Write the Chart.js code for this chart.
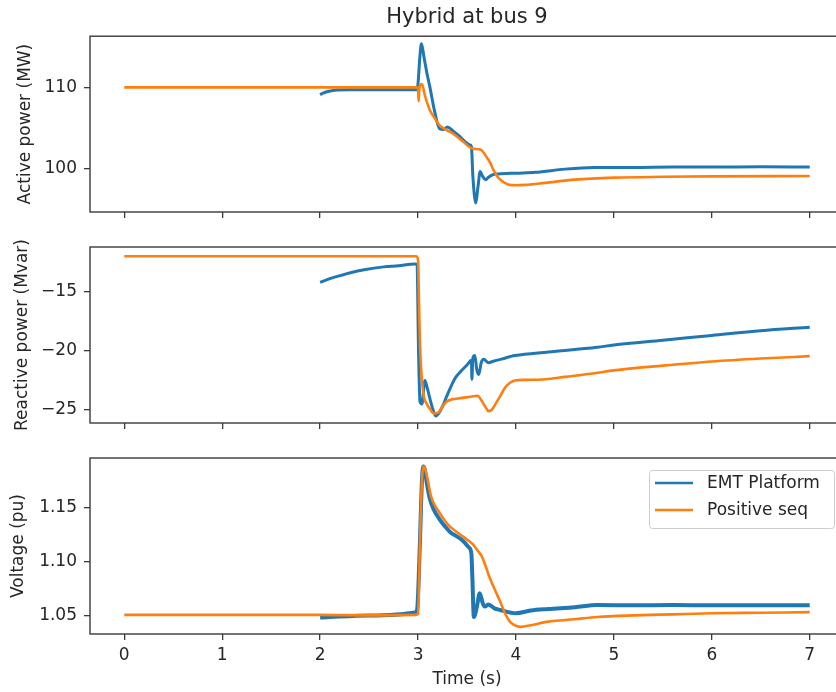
<!DOCTYPE html>
<html>
<head>
<meta charset="utf-8">
<script src="https://cdn.jsdelivr.net/npm/chart.js@4.4.1/dist/chart.umd.min.js"></script>
<style>
  html, body { margin: 0; padding: 0; background: #fff; }
  #wrap { position: relative; width: 836px; height: 692px; overflow: hidden; background: #fff; }
  canvas { position: absolute; left: 0; }
</style>
</head>
<body>
<div id="wrap">
  <canvas id="c1" width="850" height="222" style="top:0px"></canvas>
  <canvas id="c2" width="850" height="207" style="top:230px"></canvas>
  <canvas id="c3" width="850" height="252" style="top:440px"></canvas>
</div>
<script>
// ---------------- DATA ----------------
const titleText = "Hybrid at bus 9";
const seriesNames = ["EMT Platform", "Positive seq"];
const xTicks = [0, 1, 2, 3, 4, 5, 6, 7];
const pTicks = [100, 110];
const qTicks = [-25, -20, -15];
const vTicks = [1.05, 1.10, 1.15];

// Active power (MW)
const emtPTime = [2.0, 2.03, 2.08, 2.15, 2.3, 2.6, 2.99, 3.0, 3.02, 3.035, 3.06, 3.09, 3.12, 3.17, 3.22, 3.26, 3.30, 3.36, 3.42, 3.48, 3.53, 3.545, 3.56, 3.59, 3.61, 3.635, 3.66, 3.69, 3.72, 3.76, 3.82, 4.0, 4.2, 4.5, 4.8, 5.2, 5.6, 6.0, 6.5, 7.0];
const emtP     = [109.1, 109.3, 109.5, 109.65, 109.7, 109.7, 109.7, 110.5, 114.0, 115.4, 113.8, 111.8, 110.1, 107.0, 104.9, 104.8, 105.1, 104.6, 104.0, 103.3, 102.9, 102.7, 99.0, 95.7, 97.5, 99.6, 99.0, 98.6, 98.9, 99.2, 99.3, 99.4, 99.5, 99.9, 100.1, 100.1, 100.15, 100.15, 100.2, 100.15];
const posPTime = [0, 2.98, 3.0, 3.006, 3.015, 3.04, 3.07, 3.12, 3.17, 3.22, 3.28, 3.33, 3.39, 3.46, 3.53, 3.57, 3.64, 3.70, 3.74, 3.77, 3.81, 3.85, 3.92, 4.0, 4.1, 4.3, 4.6, 5.0, 5.5, 6.0, 7.0];
const posP     = [110, 110, 109.9, 108.3, 110.0, 110.4, 109.0, 107.2, 106.2, 105.3, 104.8, 104.5, 104.0, 103.3, 102.6, 102.4, 102.3, 101.4, 100.6, 99.8, 99.0, 98.5, 98.0, 97.9, 97.95, 98.2, 98.6, 98.85, 98.95, 99.0, 99.05];

// Reactive power (Mvar)
const emtQTime = [2.0, 2.1, 2.2, 2.31, 2.45, 2.65, 2.8, 2.97, 2.99, 3.005, 3.02, 3.04, 3.07, 3.09, 3.12, 3.15, 3.18, 3.21, 3.25, 3.30, 3.38, 3.44, 3.50, 3.545, 3.55, 3.56, 3.58, 3.60, 3.62, 3.645, 3.67, 3.72, 3.76, 3.85, 3.99, 4.33, 4.83, 5.0, 5.5, 6.0, 6.5, 7.0];
const emtQ     = [-14.2, -13.9, -13.65, -13.4, -13.15, -12.9, -12.8, -12.65, -12.7, -20.0, -24.3, -24.5, -22.5, -23.0, -24.0, -24.9, -25.5, -25.3, -24.7, -23.7, -22.3, -21.7, -21.2, -20.8, -22.4, -20.6, -20.4, -21.6, -22.0, -21.0, -20.7, -21.0, -20.9, -20.7, -20.4, -20.1, -19.7, -19.5, -19.1, -18.7, -18.3, -18.0];
const posQTime = [0, 2.98, 3.0, 3.01, 3.02, 3.04, 3.06, 3.09, 3.12, 3.16, 3.21, 3.25, 3.29, 3.35, 3.43, 3.52, 3.61, 3.64, 3.67, 3.70, 3.72, 3.75, 3.79, 3.84, 3.89, 3.94, 3.99, 4.1, 4.3, 4.5, 4.8, 5.0, 5.5, 6.0, 6.5, 7.0];
const posQ     = [-12.0, -12.0, -12.3, -16.0, -19.5, -22.5, -23.9, -24.5, -24.9, -25.3, -25.2, -24.7, -24.3, -24.1, -24.0, -23.9, -23.8, -24.1, -24.5, -24.9, -25.1, -25.0, -24.5, -23.8, -23.1, -22.7, -22.5, -22.45, -22.4, -22.2, -21.9, -21.65, -21.25, -20.9, -20.65, -20.45];

// Voltage (pu)
const emtVTime = [2.0, 2.1, 2.5, 2.98, 2.995, 3.02, 3.04, 3.055, 3.07, 3.09, 3.12, 3.16, 3.22, 3.28, 3.33, 3.40, 3.46, 3.52, 3.545, 3.555, 3.57, 3.60, 3.63, 3.66, 3.68, 3.72, 3.78, 3.84, 4.0, 4.15, 4.33, 4.6, 4.83, 5.2, 5.6, 6.0, 6.5, 7.0];
const emtV     = [1.0485, 1.049, 1.0505, 1.0535, 1.06, 1.12, 1.175, 1.1875, 1.184, 1.172, 1.158, 1.148, 1.139, 1.132, 1.127, 1.123, 1.119, 1.113, 1.107, 1.085, 1.049, 1.058, 1.071, 1.062, 1.0586, 1.0605, 1.057, 1.0555, 1.0525, 1.055, 1.0564, 1.058, 1.060, 1.0598, 1.0600, 1.0598, 1.0599, 1.0598];
const posVTime = [0, 2.0, 2.5, 2.98, 3.0, 3.02, 3.04, 3.055, 3.07, 3.10, 3.13, 3.17, 3.22, 3.28, 3.33, 3.40, 3.46, 3.52, 3.57, 3.61, 3.65, 3.69, 3.72, 3.78, 3.84, 3.89, 3.94, 4.0, 4.05, 4.15, 4.33, 4.6, 4.83, 5.2, 5.6, 6.0, 6.5, 7.0];
const posV     = [1.051, 1.051, 1.0505, 1.051, 1.052, 1.12, 1.175, 1.1875, 1.186, 1.175, 1.161, 1.152, 1.145, 1.137, 1.132, 1.127, 1.123, 1.119, 1.115, 1.11, 1.105, 1.096, 1.088, 1.075, 1.063, 1.052, 1.0445, 1.041, 1.040, 1.0415, 1.0448, 1.047, 1.049, 1.0505, 1.0515, 1.0525, 1.053, 1.0535];

// ---------------- RENDER ----------------
const BLUE = '#1f77b4', ORANGE = '#ff7f0e';
const FONT = "'DejaVu Sans', sans-serif";
const TXT = '#262626';
const AX = '#3a3a3a';

function pts(t, y) { return t.map((v, i) => ({ x: v, y: y[i] })); }

function zeroPad(s) { s.paddingTop = 0; s.paddingBottom = 0; s.paddingLeft = 0; s.paddingRight = 0; }

const framePlugin = {
  id: 'frame',
  afterDraw(chart) {
    const { ctx, chartArea: a } = chart;
    ctx.save();
    ctx.strokeStyle = AX;
    ctx.lineWidth = 1.4;
    ctx.strokeRect(a.left, a.top, a.right - a.left, a.bottom - a.top);
    ctx.restore();
  }
};

const legendPlugin = {
  id: 'boxLegend',
  afterDraw(chart, args, opts) {
    if (!opts || !opts.show) return;
    const { ctx, chartArea: a } = chart;
    const w = 185, h = 58;
    const x = a.right - 10 - w, y = a.top + 12;
    ctx.save();
    ctx.fillStyle = 'rgba(255,255,255,0.85)';
    ctx.strokeStyle = '#cccccc';
    ctx.lineWidth = 1;
    ctx.beginPath();
    if (ctx.roundRect) ctx.roundRect(x + 0.5, y + 0.5, w, h, 3); else ctx.rect(x + 0.5, y + 0.5, w, h);
    ctx.fill(); ctx.stroke();
    ctx.font = "17px " + FONT;
    ctx.textBaseline = 'middle';
    ctx.textAlign = 'left';
    chart.data.datasets.forEach((ds, i) => {
      const ly = y + 13 + i * 27;
      ctx.strokeStyle = ds.borderColor;
      ctx.lineWidth = 2.5;
      ctx.beginPath();
      ctx.moveTo(x + 6, ly); ctx.lineTo(x + 44, ly);
      ctx.stroke();
      ctx.fillStyle = TXT;
      ctx.fillText(ds.label, x + 58, ly + 1);
    });
    ctx.restore();
  }
};

function makeChart(id, cfg) {
  const xScale = {
    type: 'linear', min: -0.35, max: 7.35,
    afterBuildTicks: s => { s.ticks = xTicks.map(v => ({ value: v })); },
    afterFit: s => { s.height = cfg.xHeight; zeroPad(s); },
    grid: { drawOnChartArea: false, drawTicks: true, tickLength: 6, color: AX, lineWidth: 1.3 },
    border: { display: false },
    ticks: { display: cfg.showX, padding: 5, color: TXT, font: { family: FONT, size: 17 }, maxRotation: 0 },
    title: { display: cfg.showX, text: 'Time (s)', color: TXT, font: { family: FONT, size: 17 }, padding: { top: 0, bottom: 2 } }
  };
  const yScale = {
    type: 'linear', min: cfg.yMin, max: cfg.yMax,
    afterBuildTicks: s => { s.ticks = cfg.yTicks.map(v => ({ value: v })); },
    afterFit: s => { s.width = 90; zeroPad(s); },
    grid: { drawOnChartArea: false, drawTicks: true, tickLength: 6, color: AX, lineWidth: 1.3 },
    border: { display: false },
    ticks: { padding: 7, color: TXT, font: { family: FONT, size: 17 }, callback: cfg.fmt },
    title: { display: true, text: cfg.yLabel, color: TXT, font: { family: FONT, size: 17 }, padding: { top: cfg.yTitlePad, bottom: 0 } }
  };
  return new Chart(document.getElementById(id), {
    type: 'line',
    data: {
      datasets: [
        { label: seriesNames[0], data: pts(cfg.emtT, cfg.emtY), borderColor: BLUE, borderWidth: cfg.blueW, pointRadius: 0, cubicInterpolationMode: 'monotone', order: 1 },
        { label: seriesNames[1], data: pts(cfg.posT, cfg.posY), borderColor: ORANGE, borderWidth: 2.6, pointRadius: 0, cubicInterpolationMode: 'monotone', order: 0 }
      ]
    },
    options: {
      responsive: false, animation: false, devicePixelRatio: 1,
      layout: { padding: { top: cfg.padTop, right: 6, left: 0, bottom: 0 } },
      scales: { x: xScale, y: yScale },
      plugins: {
        legend: { display: false },
        tooltip: { enabled: false },
        title: cfg.title ? { display: true, text: cfg.title, fullSize: false, color: TXT, font: { family: FONT, size: 21, weight: 'normal' }, padding: { top: 5, bottom: 6 } } : { display: false },
        boxLegend: { show: !!cfg.legend }
      }
    },
    plugins: [framePlugin, legendPlugin]
  });
}

makeChart('c1', {
  title: titleText, padTop: 0, xHeight: 10, showX: false,
  yMin: 94.6, yMax: 116.33, yTicks: pTicks, yLabel: 'Active power (MW)', yTitlePad: 15.5,
  fmt: v => String(v), emtT: emtPTime, emtY: emtP, posT: posPTime, posY: posP, blueW: 3
});
makeChart('c2', {
  padTop: 17, xHeight: 14, showX: false,
  yMin: -26.1, yMax: -11.22, yTicks: qTicks, yLabel: 'Reactive power (Mvar)', yTitlePad: 12.3,
  fmt: v => (v < 0 ? '\u2212' + Math.abs(v) : String(v)), emtT: emtQTime, emtY: emtQ, posT: posQTime, posY: posQ, blueW: 3
});
makeChart('c3', {
  padTop: 18, xHeight: 58, showX: true, legend: true,
  yMin: 1.0334, yMax: 1.1954, yTicks: vTicks, yLabel: 'Voltage (pu)', yTitlePad: 8.8,
  fmt: v => v.toFixed(2), emtT: emtVTime, emtY: emtV, posT: posVTime, posY: posV, blueW: 4
});
</script>
</body>
</html>
